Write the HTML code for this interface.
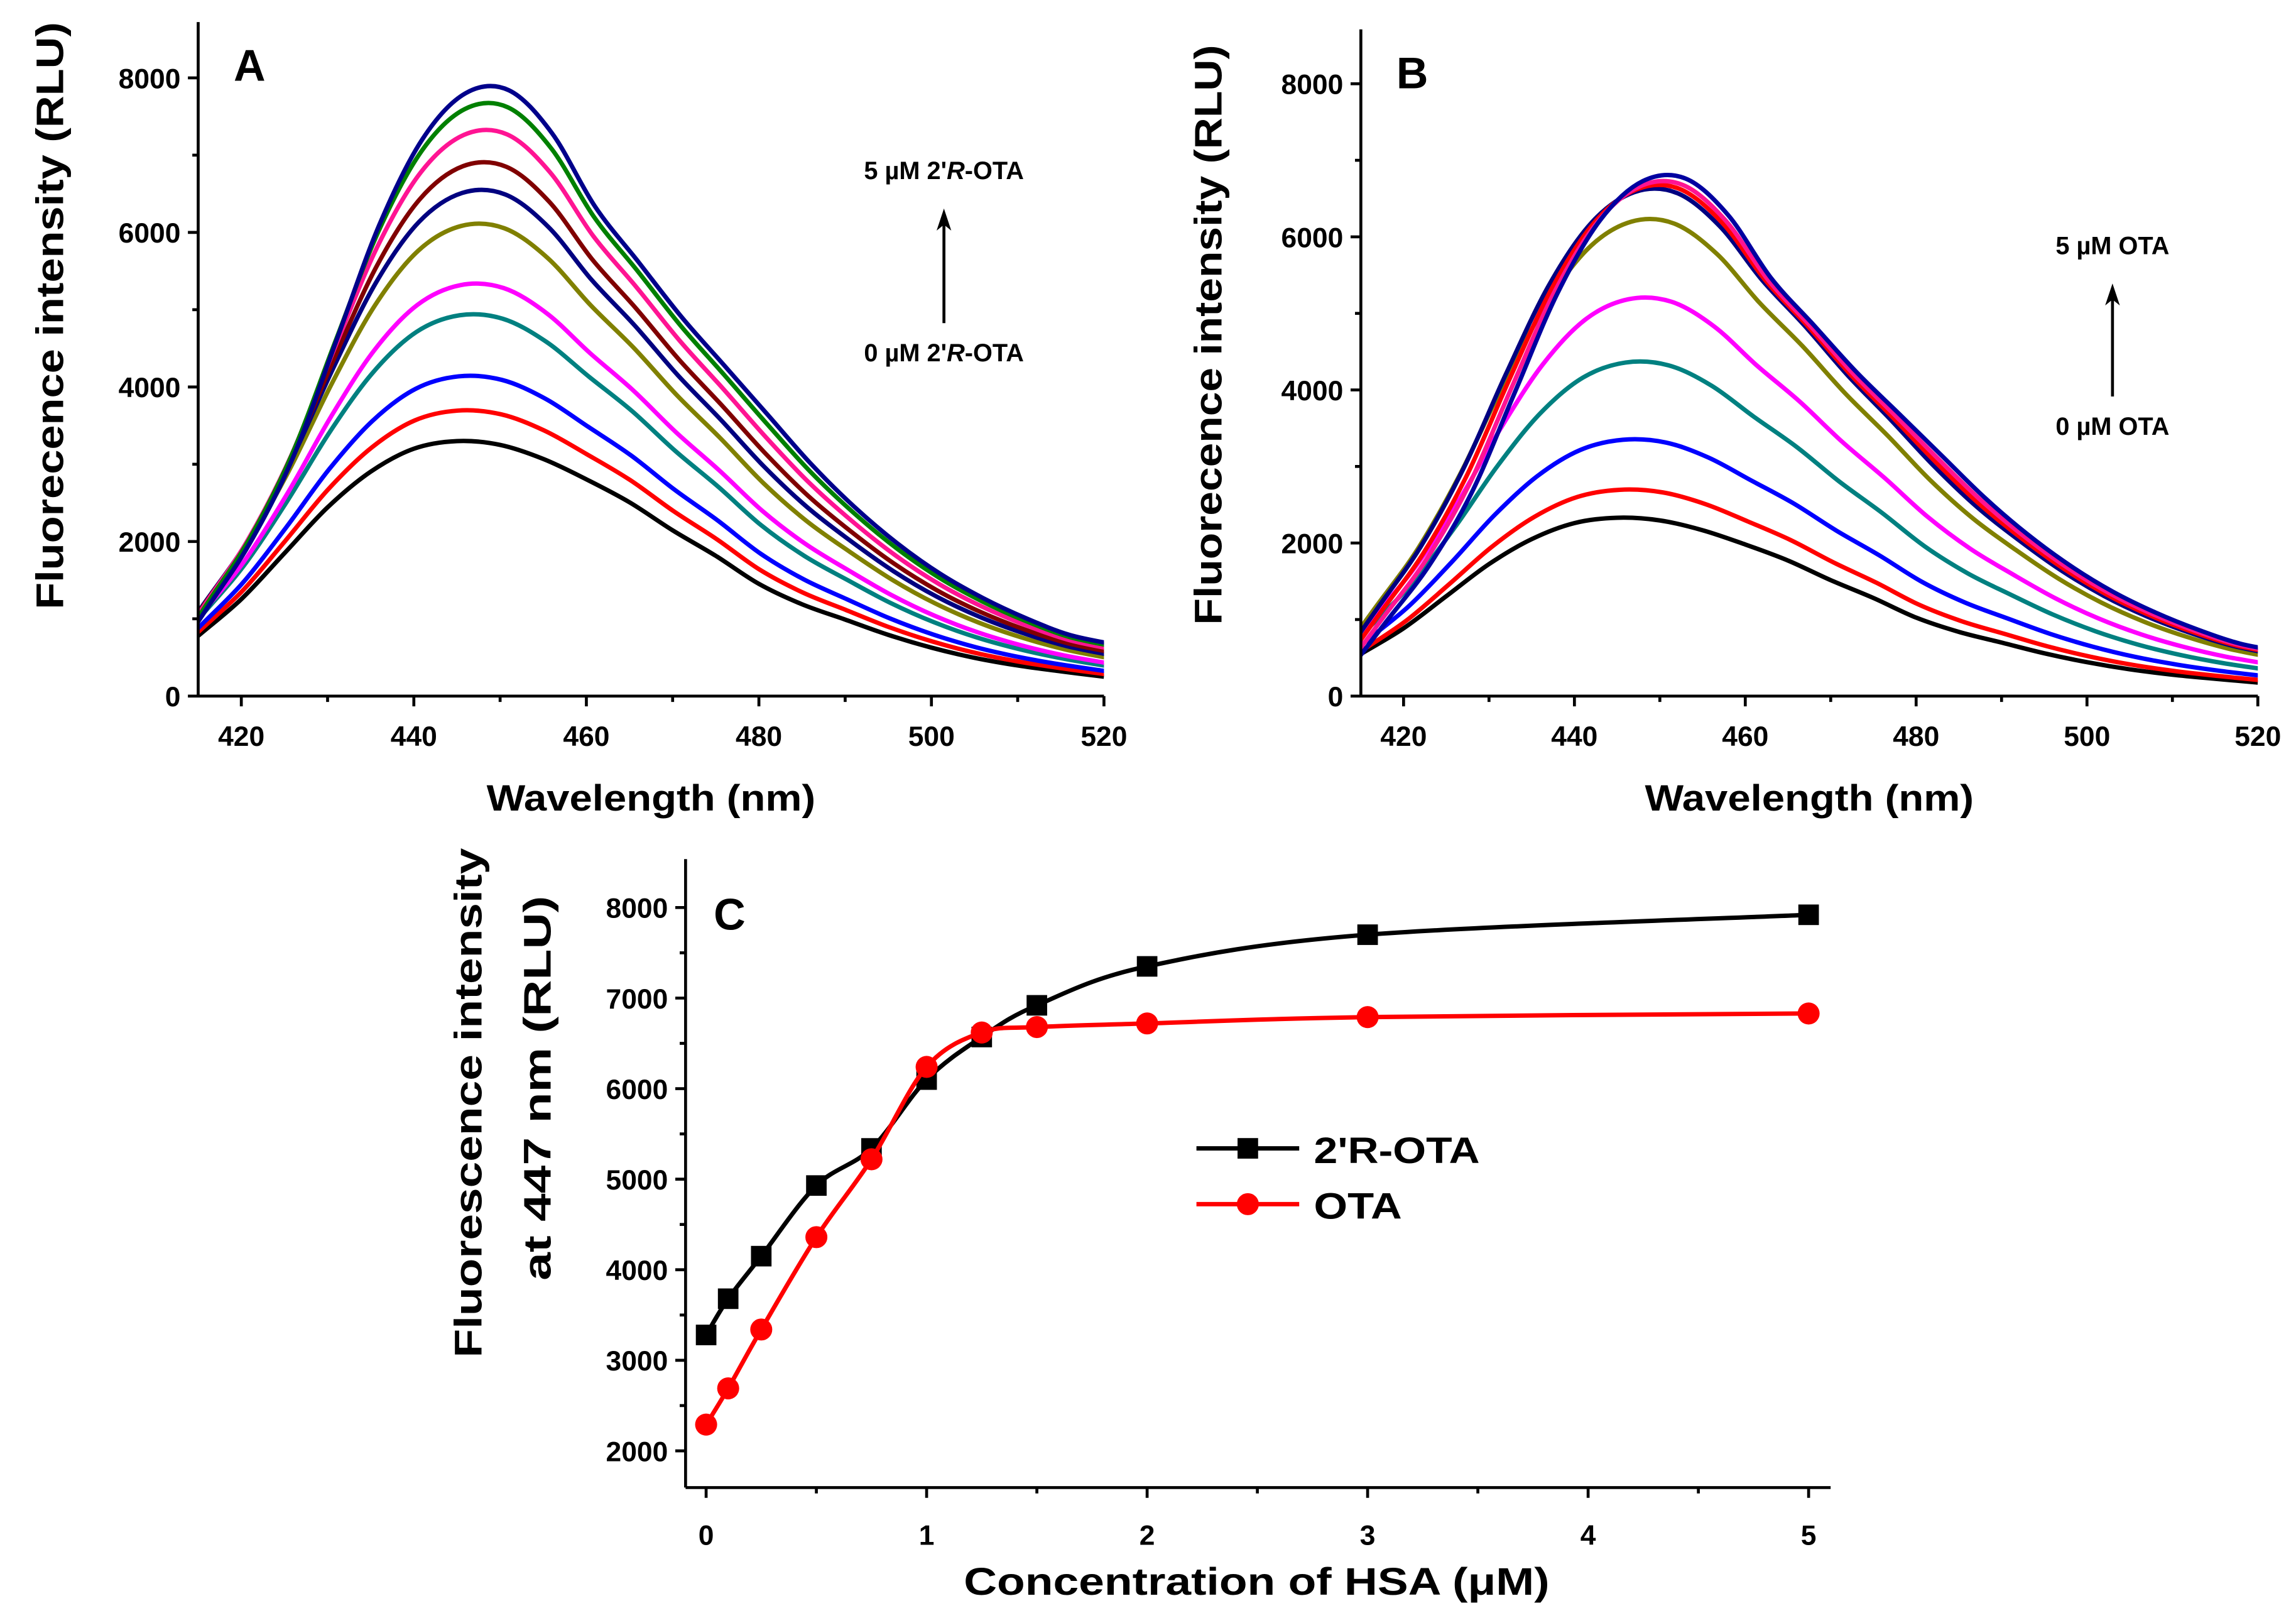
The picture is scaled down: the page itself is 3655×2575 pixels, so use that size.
<!DOCTYPE html>
<html><head><meta charset="utf-8"><style>
html,body{margin:0;padding:0;background:#fff}
svg{display:block}
text{font-family:"Liberation Sans",sans-serif;font-weight:bold;fill:#000}
</style></head><body>
<svg id="fig" width="3655" height="2575" viewBox="0 0 1564 1101.8" xmlns="http://www.w3.org/2000/svg"></svg>
<script>
// ---- data ----
const wavelengths = [415,420,425,430,435,440,445,450,455,460,465,470,475,480,485,490,495,500,505,510,515,520];
const shapeLow  = [0.236,0.38,0.56,0.74,0.88,0.97,1.0,0.985,0.93,0.85,0.76,0.65,0.55,0.44,0.36,0.30,0.24,0.19,0.15,0.12,0.097,0.076];
const shapeHigh = [0.143,0.25,0.39,0.58,0.77,0.91,0.985,0.99,0.92,0.80,0.71,0.62,0.54,0.46,0.38,0.31,0.25,0.20,0.16,0.127,0.10,0.085];
const peaksA = [3300,3700,4150,4950,5350,6130,6570,6930,7350,7700,7920];
const colorsA = ["#000000","#ff0000","#0000ff","#008080","#ff00ff","#808000","#000080","#800000","#ff1493","#008000","#00008b"];
const peaksB = [2330,2700,3360,4380,5220,6250,6650,6700,6750,6830];
const colorsB = ["#000000","#ff0000","#0000ff","#008080","#ff00ff","#808000","#000080","#ff0000","#ff1493","#0000a0"];
const concX = [0,0.1,0.25,0.5,0.75,1,1.25,1.5,2,3,5];
const seriesR2OTA = [3280,3680,4150,4930,5340,6100,6570,6920,7350,7700,7920];
const seriesOTA = [2290,2690,3340,4360,5220,6240,6620,6680,6720,6790,6830];
const yTicksAB = [0,2000,4000,6000,8000];
const xTicksAB = [420,440,460,480,500,520];
const yTicksC = [2000,3000,4000,5000,6000,7000,8000];
const xTicksC = [0,1,2,3,4,5];

const NS="http://www.w3.org/2000/svg";
const svg=document.getElementById('fig');
function mk(tag,attrs,parent){const e=document.createElementNS(NS,tag);for(const k in attrs)e.setAttribute(k,attrs[k]);(parent||svg).appendChild(e);return e;}
function txt(s,x,y,size,anchor,parent,rot,len){const t=mk('text',{x:x,y:y,'font-size':size,'text-anchor':anchor||'middle'},parent);if(len){t.setAttribute('textLength',len);t.setAttribute('lengthAdjust','spacingAndGlyphs');}if(rot)t.setAttribute('transform','rotate(-90 '+x+' '+y+')');t.textContent=s;return t;}
function smooth(pts){let d='M'+pts[0][0]+','+pts[0][1];for(let i=0;i<pts.length-1;i++){const p0=pts[i-1]||pts[i],p1=pts[i],p2=pts[i+1],p3=pts[i+2]||p2;const c1=[p1[0]+(p2[0]-p0[0])/6,p1[1]+(p2[1]-p0[1])/6],c2=[p2[0]-(p3[0]-p1[0])/6,p2[1]-(p3[1]-p1[1])/6];d+=' C'+c1[0]+','+c1[1]+' '+c2[0]+','+c2[1]+' '+p2[0]+','+p2[1];}return d;}

function spectraPanel(name,L,R,B,T,y8000,peaks,colors,letter,shift,ytx,ytc,ytl){
  const g=mk('g',{});
  
  
  const xs=v=>L+(v-415)/105*(R-L);
  const ys=v=>B-v/8000*(B-y8000);
  const cp=mk('clipPath',{id:name+'-clip'},g);
  mk('rect',{x:L,y:T-10,width:R-L,height:B-T+10},cp);
  const cg=mk('g',{'clip-path':'url(#'+name+'-clip)'},g);
  peaks.forEach((p,i)=>{
    const t=i/(peaks.length-1);
    const pts=wavelengths.map((w,j)=>[xs(w+shift*t),ys(p*(shapeLow[j]*(1-t)+shapeHigh[j]*t))]);
    // linear extension to the left edge
    const a=pts[0],b=pts[1];
    pts.unshift([2*a[0]-b[0],2*a[1]-b[1]]);
    const path=mk('path',{d:smooth(pts),fill:'none',stroke:colors[i],'stroke-width':3},cg);
    
    
  });
  const ax=mk('g',{stroke:'#000','stroke-width':2,fill:'none'},g);
  
  
  mk('line',{x1:L,y1:T,x2:L,y2:B},ax);mk('line',{x1:L,y1:B,x2:R,y2:B},ax);
  for(let v=0;v<=8000;v+=1000){const big=v%2000===0;mk('line',{x1:L,y1:ys(v),x2:L-(big?7:4),y2:ys(v)},ax);}
  for(let v=420;v<=520;v+=10){const big=v%20===0;mk('line',{x1:xs(v),y1:B,x2:xs(v),y2:B+(big?7:4)},ax);}
  yTicksAB.forEach(v=>{const t=txt(v,L-12,ys(v)+7,19,'end',g);});
  xTicksAB.forEach(v=>{const t=txt(v,xs(v),B+34,19,'middle',g);});
  const lt=txt(letter,L+35,T+40,30,'middle',g);
  const xt=txt('Wavelength (nm)',(L+R)/2,B+78,25,'middle',g,false,224);
  const yt=txt('Fluorecence intensity (RLU)',ytx,ytc,26,'middle',g,true,ytl);
}
spectraPanel('panel-a-chart',135,752,474,15,53,peaksA,colorsA,'A',1,43,215,400);
spectraPanel('panel-b-chart',927,1538,474,20,57,peaksB,colorsB,'B',3,832,228,395);

// annotations
function annot(name,x,top,bot,sTop,sBot){
  const g=mk('g',{});
  
  
  const a=txt('',x,top,17,'middle',g);a.innerHTML=sTop;
  mk('line',{x1:x,y1:bot-26,x2:x,y2:top+25,stroke:'#000','stroke-width':2},g);
  mk('path',{d:`M${x},${top+20} L${x-5},${top+35} L${x},${top+31} L${x+5},${top+35} Z`,fill:'#000'},g);
  const b=txt('',x,bot,17,'middle',g);b.innerHTML=sBot;
}
annot('annotation-a',643,122,246,"5 µM 2'<tspan font-style='italic'>R</tspan>-OTA","0 µM 2'<tspan font-style='italic'>R</tspan>-OTA");
annot('annotation-b',1439,173,296,"5 µM OTA","0 µM OTA");

// panel C
(function(){
  const g=mk('g',{});
  
  
  const L=467,R=1247,B=1013,T=585;
  const xs=v=>481+v/5*(1232-481);
  const ys=v=>988-(v-2000)/6000*(988-618);
  const ax=mk('g',{stroke:'#000','stroke-width':2,fill:'none'},g);
  
  
  mk('line',{x1:L,y1:T,x2:L,y2:B},ax);mk('line',{x1:L,y1:B,x2:R,y2:B},ax);
  for(let v=2000;v<=8000;v+=500){const big=v%1000===0;mk('line',{x1:L,y1:ys(v),x2:L-(big?7:4),y2:ys(v)},ax);}
  for(let v=0;v<=5;v+=0.5){const big=v%1===0;mk('line',{x1:xs(v),y1:B,x2:xs(v),y2:B+(big?7:4)},ax);}
  yTicksC.forEach(v=>{const t=txt(v,L-12,ys(v)+7,19,'end',g);});
  xTicksC.forEach(v=>{const t=txt(v,xs(v),B+39,19,'middle',g);});
  const lt=txt('C',497,633,30,'middle',g);
  const xt=txt('Concentration of HSA (μM)',856,1086,26,'middle',g,false,399);
  const y1=txt('Fluorescence intensity',328,751,26,'middle',g,true,347);
  const y2=txt('at 447 nm (RLU)',375,741,26,'middle',g,true,262);
  function series(vals,color,marker,nm){
    const sg=mk('g',{},g);
    
    
    const pts=concX.map((x,i)=>[xs(x),ys(vals[i])]);
    mk('path',{d:smooth(pts),fill:'none',stroke:color,'stroke-width':3},sg);
    pts.forEach(p=>{
      const m=marker==='sq'?mk('rect',{x:p[0]-7,y:p[1]-7,width:14,height:14,fill:color},sg):mk('circle',{cx:p[0],cy:p[1],r:7.5,fill:color},sg);
      
      
    });
  }
  series(seriesR2OTA,'#000','sq','series-2r-ota');
  series(seriesOTA,'#ff0000','ci','series-ota');
  const lg=mk('g',{},g);
  
  
  mk('line',{x1:815,y1:782,x2:885,y2:782,stroke:'#000','stroke-width':3},lg);
  mk('rect',{x:843,y:775,width:14,height:14,fill:'#000'},lg);
  txt("2'R-OTA",895,792,25,'start',lg,false,113);
  mk('line',{x1:815,y1:820,x2:885,y2:820,stroke:'#ff0000','stroke-width':3},lg);
  mk('circle',{cx:850,cy:820,r:7.5,fill:'#ff0000'},lg);
  txt("OTA",895,830,25,'start',lg,false,60);
})();
</script>
</body></html>
